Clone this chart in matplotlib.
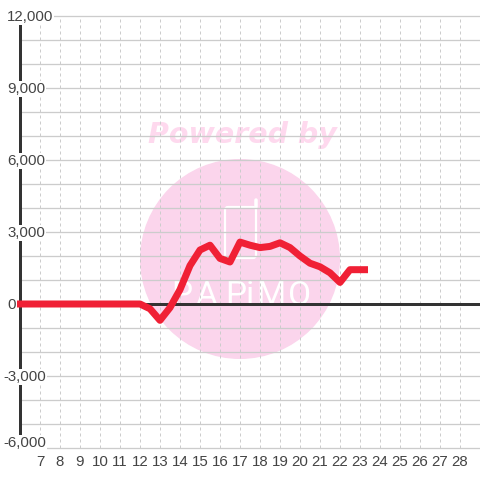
import matplotlib
matplotlib.use("Agg")
import matplotlib.pyplot as plt
from matplotlib.patches import Circle, FancyBboxPatch
from matplotlib.lines import Line2D
from matplotlib.transforms import blended_transform_factory, Affine2D

hours = [5.85, 7, 8, 9, 10, 11, 12, 12.5, 13, 13.5, 14, 14.5, 15, 15.5, 16, 16.5, 17, 17.5, 18,
         18.5, 19, 19.5, 20, 20.5, 21, 21.5, 22, 22.5, 23, 23.4]
values = [0, 0, 0, 0, 0, 0, 0, -200, -680, -150, 600, 1600, 2250, 2450, 1900, 1750, 2580, 2450, 2350,
          2400, 2550, 2350, 2000, 1700, 1550, 1300, 900, 1430, 1430, 1430]
x_ticks = list(range(7, 29))
y_ticks = list(range(-6000, 12001, 1000))
y_labels = {12000: "12,000", 9000: "9,000", 6000: "6,000", 3000: "3,000", 0: "0",
            -3000: "-3,000", -6000: "-6,000"}

W = H = 480
PX = 0.72
plt.rcParams["font.family"] = ["Liberation Sans", "DejaVu Sans"]
fig = plt.figure(figsize=(4.8, 4.8), dpi=100, facecolor="white")
ax = fig.add_axes([20 / W, 1 - 448 / H, 460 / W, 432 / H])
ax.patch.set_visible(False)
ax.set_xlim(6, 29)
ax.set_ylim(-6000, 12000)

# Watermark (pixel coordinates, y flipped)
px = Affine2D().scale(1, -1).translate(0, H)
PINK = "#fbd5ec"
fig.add_artist(Circle((240, 259), 100, transform=px, fc=PINK, ec="none", zorder=-5))
fig.add_artist(FancyBboxPatch((225, 207), 31, 51, boxstyle="round,pad=0,rounding_size=3", transform=px,
                              fc="none", ec="white", lw=2.2 * PX, zorder=-4))
fig.add_artist(Line2D([256, 256], [207, 200], transform=px, color="white", lw=3.5 * PX,
                      solid_capstyle="round", zorder=-4))
for ch, cx in zip("PAPiMO", [182, 206, 236, 250, 271, 300]):
    fig.text(cx / W, 1 - 305 / H, ch, color="white", fontsize=24, ha="center", va="baseline",
             family="Roboto", zorder=-4)
fig.text(242 / W, 1 - 135 / H, "Powered by", color="#fed9ee", fontsize=20.5, ha="center", va="center",
         family="DejaVu Sans", weight="bold", style="italic", zorder=-4)

# Axes, grid
for name, sp in ax.spines.items():
    sp.set_visible(False)
ax.spines["left"].set_visible(True)
ax.spines["left"].set_color("#333333")
ax.spines["left"].set_linewidth(3 * PX)
ax.spines["left"].set_zorder(1.5)
ax.set_xticks(x_ticks)
ax.set_yticks(y_ticks)
ax.set_yticklabels([])
ax.tick_params(length=0, labelsize=10.8, labelcolor="#444444", pad=5)
ax.set_axisbelow(True)
ax.grid(axis="y", color="#cccccc", lw=1.3 * PX, clip_on=False)
ax.grid(axis="x", color="#cccccc", lw=1 * PX, linestyle=(0, (3, 3)))
ax.axhline(0, color="#333333", lw=3 * PX, zorder=1.6)

# Y labels with white boxes
for v, s in y_labels.items():
    x0 = 3 if v < 0 else 7
    yy = (v if v != -6000 else -5760) - 30
    ax.text(x0 / W, yy, s, transform=blended_transform_factory(fig.transFigure, ax.transData),
            fontsize=10.8, color="#444444", ha="left", va="center", zorder=2,
            bbox=dict(fc="white", ec="none", pad=0.6), clip_on=False)

ax.plot(hours, values, color="#f02035", lw=7 * PX, solid_capstyle="butt", solid_joinstyle="round",
        clip_on=False, zorder=3)

fig.savefig("out.png", dpi=100)
